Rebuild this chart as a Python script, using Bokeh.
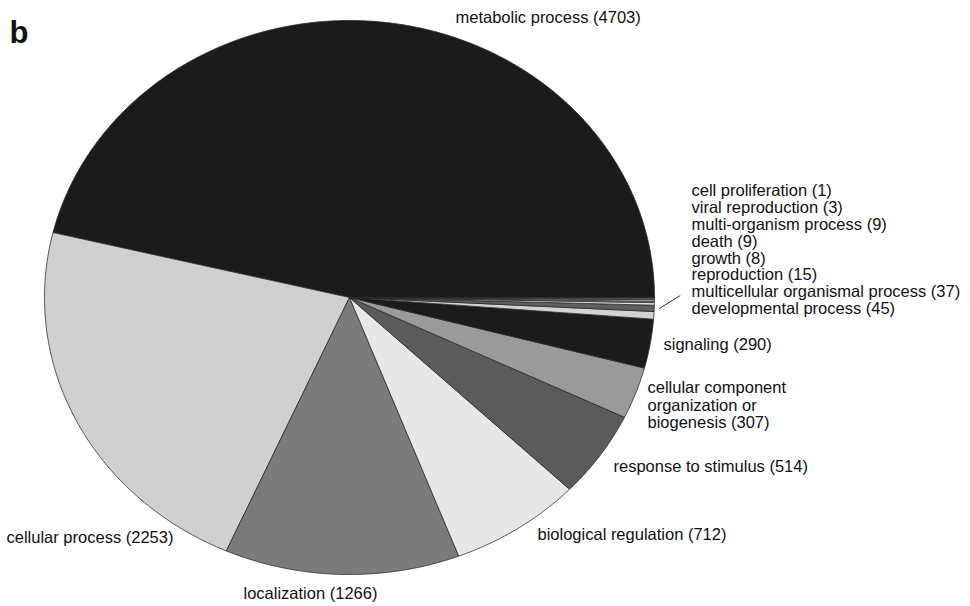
import numpy as np
from bokeh.plotting import figure
from bokeh.models import Range1d, ColumnDataSource
from bokeh.core.properties import value
from bokeh.embed import file_html
from bokeh.resources import INLINE

# GO biological process categories and gene counts (counter-clockwise from 3 o'clock)
categories = [
    "metabolic process", "cellular process", "localization",
    "biological regulation", "response to stimulus",
    "cellular component organization or biogenesis", "signaling",
    "developmental process", "multicellular organismal process",
    "reproduction", "growth", "death", "multi-organism process",
    "viral reproduction", "cell proliferation",
]
counts = [4703, 2253, 1266, 712, 514, 307, 290, 45, 37, 15, 8, 9, 9, 3, 1]
fills = [
    "#1b1b1b", "#d0d0d0", "#7b7b7b", "#e7e7e7", "#5b5b5b", "#9a9a9a",
    "#1b1b1b", "#d2d2d2", "#5e5e5e", "#e6e6e6", "#bdbdbd", "#e6e6e6",
    "#9a9a9a", "#e6e6e6", "#ffffff",
]

W, H = 970, 606
CX, CY = 349, 297        # pie centre (page pixels)
RX, RY = 305, 277        # elliptical radii
START = 0.0              # angle of first slice edge, degrees

p = figure(width=W, height=H, output_backend="svg", toolbar_location=None,
           x_range=Range1d(0, W), y_range=Range1d(H, 0),
           x_axis_location=None, y_axis_location=None,
           min_border=0, outline_line_color=None)
p.grid.visible = False
p.background_fill_color = "white"
p.border_fill_color = "white"

total = float(sum(counts))
edges = START + 360.0 * np.concatenate([[0], np.cumsum(counts)]) / total

xs, ys = [], []
for a0, a1 in zip(edges[:-1], edges[1:]):
    n = max(4, int(abs(a1 - a0) * 3))
    th = np.radians(np.linspace(a0, a1, n))
    xs.append([CX] + list(CX + RX * np.cos(th)))
    ys.append([CY] + list(CY - RY * np.sin(th)))

p.patches(xs=xs, ys=ys, fill_color=fills, line_color="#2b2b2b",
          line_width=0.8, line_join="miter")

# leader line for the cluster of tiny slices
mid = np.radians(0.5 * (edges[8] + edges[9]))
lx0 = CX + (RX + 5) * np.cos(mid)
ly0 = CY - (RY + 5) * np.sin(mid)
p.line([lx0, lx0 + 21], [ly0, ly0 - 13], line_color="#333333", line_width=1)

# label text and layout
labels = [
    ("metabolic process (4703)", 455, 16),
    ("cell proliferation (1)", 691, 189),
    ("viral reproduction (3)", 691, 206),
    ("multi-organism process (9)", 691, 223),
    ("death (9)", 691, 240),
    ("growth (8)", 691, 257),
    ("reproduction (15)", 691, 273),
    ("multicellular organismal process (37)", 691, 290),
    ("developmental process (45)", 691, 307),
    ("signaling (290)", 663, 343),
    ("cellular component", 647, 386),
    ("organization or", 647, 404),
    ("biogenesis (307)", 647, 421),
    ("response to stimulus (514)", 613, 465),
    ("biological regulation (712)", 537, 533),
    ("localization (1266)", 243, 592),
    ("cellular process (2253)", 6, 536),
]
src = ColumnDataSource(dict(x=[l[1] for l in labels], y=[l[2] for l in labels],
                            t=[l[0] for l in labels]))
p.text(x="x", y="y", text="t", source=src, text_font=value("Liberation Sans"),
       text_font_size="16.5px", text_color="#111111",
       text_align="left", text_baseline="middle")

p.text(x=[9], y=[32], text=["b"], text_font=value("Liberation Sans"),
       text_font_size="31px", text_font_style="bold", text_color="#111111",
       text_align="left", text_baseline="middle")

open("out.html", "w").write(file_html(p, INLINE))
